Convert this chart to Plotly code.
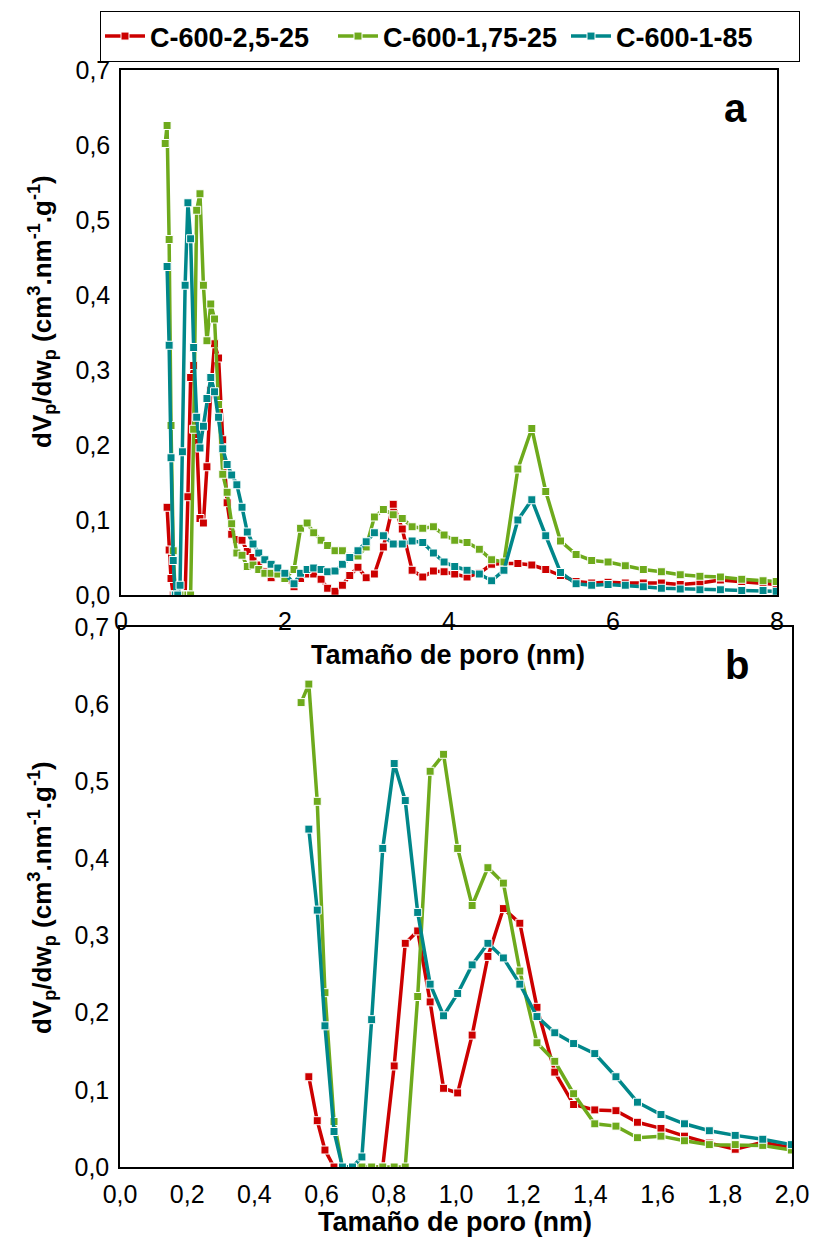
import plotly.graph_objects as go

# ---- data (pore width, nm) ----
pore_size_nm = [0.539, 0.562, 0.587, 0.610, 0.637, 0.662, 0.692, 0.720, 0.749, 0.782,
                0.816, 0.849, 0.886, 0.923, 0.963, 1.005, 1.048, 1.095, 1.141, 1.190,
                1.241, 1.294, 1.350, 1.413, 1.476, 1.540, 1.610, 1.680, 1.754, 1.831,
                1.913, 1.998, 2.11, 2.19, 2.27, 2.35, 2.44, 2.52, 2.61, 2.70,
                2.79, 2.89, 2.99, 3.09, 3.20, 3.32, 3.43, 3.55, 3.68, 3.81,
                3.94, 4.07, 4.22, 4.37, 4.52, 4.67, 4.84, 5.01, 5.18, 5.36,
                5.55, 5.74, 5.94, 6.15, 6.37, 6.59, 6.82, 7.06, 7.31, 7.57,
                7.83, 7.99]

c600_25_25 = [None, 0.117, 0.060, 0.022, 0.0, 0.0, 0.0, 0.0, 0.0, 0.0,
              0.131, 0.290, 0.306, 0.214, 0.102, 0.096, 0.171, 0.273, 0.335, 0.316,
              0.207, 0.123, 0.081, 0.074, 0.073, 0.058, 0.050, 0.040, 0.031, 0.023,
              0.032, 0.025, 0.011, 0.022, 0.028, 0.028, 0.021, 0.009, 0.005, 0.013,
              0.026, 0.037, 0.023, 0.028, 0.064, 0.121, 0.088, 0.033, 0.024, 0.032,
              0.031, 0.028, 0.024, 0.029, 0.041, 0.042, 0.042, 0.040, 0.034, 0.026,
              0.018, 0.016, 0.017, 0.016, 0.016, 0.016, 0.014, 0.016, 0.020, 0.018,
              0.016, 0.014]

c600_175_25 = [0.602, 0.626, 0.474, 0.226, 0.059, 0.0, 0.0, 0.0, 0.0, 0.0,
               0.0, 0.0, 0.221, 0.513, 0.535, 0.413, 0.339, 0.388, 0.368, 0.254,
               0.161, 0.137, 0.095, 0.056, 0.053, 0.038, 0.040, 0.034, 0.029, 0.029,
               0.028, 0.022, 0.034, 0.089, 0.096, 0.083, 0.073, 0.066, 0.059, 0.059,
               0.051, 0.052, 0.064, 0.104, 0.114, 0.107, 0.102, 0.091, 0.089, 0.091,
               0.080, 0.073, 0.070, 0.061, 0.047, 0.044, 0.168, 0.222, 0.138, 0.072,
               0.054, 0.046, 0.044, 0.039, 0.034, 0.031, 0.027, 0.025, 0.024, 0.021,
               0.019, 0.018]

c600_1_85 = [None, 0.438, 0.333, 0.183, 0.046, 0.0, 0.0, 0.013, 0.191, 0.413,
             0.523, 0.475, 0.330, 0.237, 0.196, 0.225, 0.262, 0.290, 0.271, 0.237,
             0.195, 0.174, 0.160, 0.147, 0.117, 0.084, 0.068, 0.056, 0.047, 0.041,
             0.036, 0.029, 0.015, 0.029, 0.034, 0.036, 0.034, 0.031, 0.032, 0.041,
             0.050, 0.059, 0.071, 0.083, 0.079, 0.068, 0.068, 0.072, 0.070, 0.056,
             0.044, 0.038, 0.033, 0.028, 0.019, 0.033, 0.100, 0.127, 0.079, 0.030,
             0.015, 0.013, 0.014, 0.013, 0.011, 0.009, 0.008, 0.007, 0.007, 0.006,
             0.006, 0.005]

series_names = ["C-600-2,5-25", "C-600-1,75-25", "C-600-1-85"]
series_values = [c600_25_25, c600_175_25, c600_1_85]
series_colors = ["#CC0000", "#6EAA1C", "#00878A"]

panel_a_xticks = [0, 2, 4, 6, 8]
panel_b_xticks = [0.0, 0.2, 0.4, 0.6, 0.8, 1.0, 1.2, 1.4, 1.6, 1.8, 2.0]
y_ticks = [0.0, 0.1, 0.2, 0.3, 0.4, 0.5, 0.6, 0.7]

W, H = 813, 1242
FONT = "Arial, Liberation Sans, sans-serif"

def px(x):
    return x / W

def py(y):
    return 1 - y / H

fig = go.Figure()

for name, vals, col in zip(series_names, series_values, series_colors):
    for axes, show in (("x", True), ("x2", False)):
        fig.add_trace(go.Scatter(
            x=pore_size_nm, y=vals, name=name, mode="lines+markers",
            xaxis=axes, yaxis="y" if axes == "x" else "y2",
            line=dict(color=col, width=3.5),
            marker=dict(symbol="square", size=8, color=col,
                        line=dict(color="white", width=1)),
            showlegend=show, legendgroup=name,
        ))

axis_common = dict(showline=True, linecolor="black", linewidth=1.5, mirror=True,
                   showgrid=False, zeroline=False, ticks="",
                   tickfont=dict(family=FONT, size=25, color="black"))

fig.update_layout(
    width=W, height=H,
    margin=dict(l=0, r=0, t=0, b=0, autoexpand=False),
    paper_bgcolor="white", plot_bgcolor="white",
    separators=", ",
    font=dict(family=FONT, color="black"),
    xaxis=dict(domain=[px(121), px(777)], range=[0, 8], tickvals=panel_a_xticks,
               anchor="y", ticklabelstandoff=3, **axis_common),
    yaxis=dict(domain=[py(595), py(70)], range=[0, 0.7], tickvals=y_ticks,
               tickformat=".1f", anchor="x", ticklabelstandoff=4, **axis_common),
    xaxis2=dict(domain=[px(120), px(792)], range=[0, 2.0], tickvals=panel_b_xticks,
                tickformat=".1f", anchor="y2", ticklabelstandoff=4, **axis_common),
    yaxis2=dict(domain=[py(1167), py(627)], range=[0, 0.7], tickvals=y_ticks,
                tickformat=".1f", anchor="x2", ticklabelstandoff=4, **axis_common),
    legend=dict(orientation="h", x=px(100), y=py(11), xanchor="left", yanchor="top",
                bordercolor="black", borderwidth=1, bgcolor="white",
                font=dict(family=FONT, size=27, color="black", weight="bold"),
                entrywidth=178, itemwidth=40, tracegroupgap=0),
)

ytitle = "<b>dV<sub>p</sub>/dw<sub>p</sub> (cm<sup>3</sup>.nm<sup>-1</sup>.g<sup>-1</sup>)</b>"
xtitle = "<b>Tamaño de poro (nm)</b>"
ann = [
    dict(text=xtitle, x=px(448), y=py(655), size=27, angle=0),
    dict(text=xtitle, x=px(455), y=py(1222), size=27, angle=0),
    dict(text=ytitle, x=px(42), y=py(312), size=26, angle=-90),
    dict(text=ytitle, x=px(42), y=py(898), size=26, angle=-90),
    dict(text="<b>a</b>", x=px(735), y=py(108), size=40, angle=0),
    dict(text="<b>b</b>", x=px(737), y=py(665), size=40, angle=0),
]
for a in ann:
    fig.add_annotation(text=a["text"], x=a["x"], y=a["y"], xref="paper", yref="paper",
                       xanchor="center", yanchor="middle", showarrow=False,
                       textangle=a["angle"],
                       font=dict(family=FONT, size=a["size"], color="black"))

fig.write_html("out.html", config={"displayModeBar": False},
               post_script="document.body.style.margin='0';document.body.style.overflow='hidden';")
